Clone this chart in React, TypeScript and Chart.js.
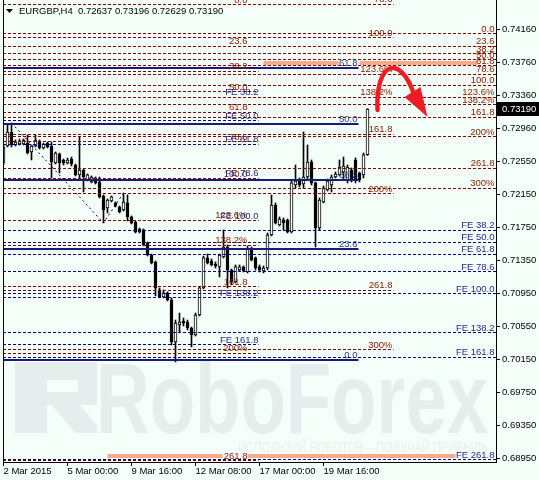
import React, { useEffect, useRef } from 'react';
import { Chart, registerables } from 'chart.js';

Chart.register(...registerables);

// ---------------- data ----------------
const symbol = 'EURGBP';
const timeframe = 'H4';

const opens = [0.72536,0.72743,0.72913,0.72755,0.72767,0.72767,0.72779,0.72670,0.72743,0.72803,
0.72719,0.72779,0.72743,0.72536,0.72646,0.72573,0.72536,0.72585,0.72512,0.72391,
0.72451,0.72330,0.72306,0.72354,0.72306,0.72136,0.71990,0.72075,0.72051,0.72002,
0.71966,0.72051,0.71881,0.71820,0.71735,0.71723,0.71565,0.71419,0.71334,0.70995,
0.70910,0.70958,0.70873,0.70363,0.70569,0.70617,0.70605,0.70532,0.70447,0.70690,
0.71019,0.71383,0.71346,0.71310,0.71274,0.71395,0.71516,0.71237,0.71092,0.71237,
0.71274,0.71213,0.71504,0.71383,0.71274,0.71225,0.71261,0.71662,0.72026,0.71783,
0.71844,0.71844,0.71698,0.72269,0.72330,0.72281,0.72366,0.72548,0.72294,0.71747,
0.72063,0.72209,0.72269,0.72366,0.72391,0.72427,0.72330,0.72451,0.72573,0.72415,
0.72391,0.72637];

const highs = [0.72767,0.72998,0.73022,0.72816,0.72828,0.72828,0.72876,0.72755,0.72876,0.72816,
0.72779,0.72791,0.72791,0.72670,0.72658,0.72585,0.72597,0.72609,0.72524,0.72852,
0.72463,0.72403,0.72379,0.72366,0.72366,0.72148,0.72099,0.72136,0.72063,0.72014,
0.72172,0.72148,0.71893,0.71832,0.71747,0.71735,0.71577,0.71431,0.71346,0.71019,
0.70995,0.70970,0.70898,0.70629,0.70714,0.70654,0.70629,0.70544,0.70714,0.71031,
0.71407,0.71431,0.71371,0.71334,0.71431,0.71723,0.71541,0.71249,0.71298,0.71298,
0.71286,0.71529,0.71516,0.71395,0.71298,0.71286,0.71686,0.72148,0.72051,0.71881,
0.71868,0.71856,0.72318,0.72512,0.72354,0.72913,0.72755,0.72573,0.72306,0.72112,
0.72257,0.72342,0.72391,0.72427,0.72573,0.72609,0.72512,0.72476,0.72597,0.72427,
0.72658,0.73196];

const lows = [0.72512,0.72731,0.72731,0.72743,0.72755,0.72755,0.72646,0.72573,0.72731,0.72706,
0.72706,0.72719,0.72354,0.72524,0.72415,0.72512,0.72524,0.72500,0.72379,0.72330,
0.72184,0.72318,0.72294,0.72281,0.72112,0.71808,0.71929,0.72063,0.72002,0.71929,
0.71953,0.71832,0.71796,0.71686,0.71686,0.71529,0.71407,0.71310,0.70922,0.70898,
0.70898,0.70861,0.70326,0.70120,0.70484,0.70557,0.70508,0.70302,0.70435,0.70678,
0.71007,0.71310,0.71286,0.71261,0.71152,0.71383,0.71019,0.71055,0.71080,0.71225,
0.71213,0.71201,0.71346,0.71237,0.71213,0.71201,0.71237,0.71650,0.71796,0.71771,
0.71723,0.71686,0.71686,0.72233,0.72245,0.72233,0.72342,0.72269,0.71516,0.71723,
0.72051,0.72197,0.72184,0.72354,0.72379,0.72330,0.72294,0.72306,0.72294,0.72306,
0.72354,0.72629];

const closes = [0.72731,0.72913,0.72755,0.72791,0.72803,0.72816,0.72658,0.72743,0.72816,0.72719,
0.72767,0.72731,0.72548,0.72658,0.72536,0.72536,0.72573,0.72524,0.72391,0.72451,
0.72366,0.72391,0.72366,0.72294,0.72124,0.71966,0.72087,0.72124,0.72014,0.71941,
0.72063,0.71881,0.71808,0.71698,0.71698,0.71541,0.71419,0.71322,0.71019,0.70910,
0.70958,0.70873,0.70363,0.70593,0.70605,0.70593,0.70532,0.70447,0.70690,0.71019,
0.71383,0.71322,0.71298,0.71286,0.71419,0.71516,0.71237,0.71092,0.71274,0.71274,
0.71225,0.71504,0.71359,0.71261,0.71237,0.71261,0.71662,0.72026,0.71808,0.71856,
0.71808,0.71698,0.72294,0.72318,0.72269,0.72366,0.72548,0.72294,0.71747,0.72087,
0.72233,0.72318,0.72366,0.72403,0.72488,0.72500,0.72488,0.72330,0.72330,0.72330,
0.72634,0.73190];

const dateTickBars = [0, 16, 32, 48, 64, 80];
const dateTickLabels = ['2 Mar 2015', '5 Mar 00:00', '9 Mar 16:00', '12 Mar 08:00', '17 Mar 00:00', '19 Mar 16:00'];
const priceTicks = [0.7416, 0.7376, 0.7336, 0.7296, 0.7255, 0.7215, 0.7175, 0.7135, 0.7095, 0.7055, 0.7015, 0.6975, 0.6935, 0.6895];

const retraceLevels = [0, 23.6, 38.2, 50, 61.8, 78.6, 100, 123.6, 138.2, 161.8, 200, 261.8, 300];
const retraceLabels = ['0.0', '23.6', '38.2', '50.0', '61.8', '78.6', '100.0', '123.6%', '138.2%', '161.8', '200%', '261.8', '300%'];
const expansionLevels = [38.2, 50, 61.8, 78.6, 100, 138.2, 161.8, 261.8];
const expansionLabels = ['FE 38.2', 'FE 50.0', 'FE 61.8', 'FE 78.6', 'FE 100.0', 'FE 138.2', 'FE 161.8', 'FE 261.8'];

// Fibonacci tools: price at 0% / 100%, last bar of the tool, bar where labels end
const fibP0 = [0.74104, 0.74456, 0.75954, 0.74268, 0.72199, 0.70138];
const fibP100 = [0.73480, 0.72342, 0.74059, 0.71832, 0.70951, 0.75886];
const fibEndBar = [123.125, 63.75, 97.5, 63.75, 123.125, 88.75];
const fibLabelBar = [122.75, 61, 97.25, 63.75, 122.75, 88.5];
const fibIsExpansion = [false, false, false, true, true, false];
const fibFirstLevel = [0, 0, 5, 0, 0, 0];
const fibLastLevel = [12, 11, 12, 6, 7, 4];

// wave used for the expansion (bar, price)
const waveBars = [2, 25, 30];
const wavePrices = [0.73022, 0.71808, 0.72172];

// target zones
const zoneFromBar = [65, 89, 26, 61];
const zoneToBar = [83.75, 118.5, 54.75, 113];
const zonePrice = [0.7375, 0.7375, 0.6898, 0.6898];

// forecast arrow (bezier through bars/prices) and head
const arrowBars = [93.5, 93, 99.25, 102.5];
const arrowPrices = [0.7318, 0.73787, 0.73848, 0.73386];
const arrowHeadBars = [100.25, 106, 104.25];
const arrowHeadPrices = [0.73338, 0.73095, 0.73459];

// ---------------- styles ----------------
const BG = '#F4FFF9';
const FONT = "'Liberation Sans', Arial, sans-serif";
const RED = '#800000';
const NAVY = '#000080';
const fibLineColor = [RED, RED, RED, NAVY, NAVY, '#1A1A78'];
const fibTextColor = ['#8B2000', '#8B2000', '#8B2000', '#2A2A86', '#2A2A86', '#27408B'];
const fibWidth = [1, 1, 1, 1, 1, 2];
const fibDashed = [true, true, true, true, true, false];

function fibPrice(f: number, level: number) {
  return fibP0[f] + (fibP100[f] - fibP0[f]) * level / 100;
}

function drawWatermark(ctx: CanvasRenderingContext2D) {
  ctx.save();
  ctx.fillStyle = '#E5EEED';
  ctx.fillRect(15, 362, 32, 71);
  ctx.fillRect(47, 362, 50, 18);
  ctx.fillRect(78, 380, 19, 25);
  ctx.fillRect(47, 392, 50, 13);
  ctx.beginPath();
  ctx.moveTo(52, 405);
  ctx.lineTo(80, 405);
  ctx.lineTo(97, 426);
  ctx.lineTo(97, 433);
  ctx.lineTo(75, 433);
  ctx.closePath();
  ctx.fill();
  ctx.font = `bold 100px ${FONT}`;
  ctx.textAlign = 'left';
  ctx.textBaseline = 'alphabetic';
  const w = ctx.measureText('RoboForex').width;
  ctx.save();
  ctx.translate(96, 433);
  ctx.scale(392 / w, 1);
  ctx.fillText('RoboForex', 0, 0);
  ctx.restore();
  const slogan = 'ИСПОЛЬЗУЙ РОБОТОВ – ПОЛУЧАЙ ПРИБЫЛЬ';
  ctx.fillStyle = '#E8F0EF';
  ctx.font = `15px ${FONT}`;
  const w2 = ctx.measureText(slogan).width;
  ctx.translate(238, 452);
  ctx.scale(250 / w2, 1);
  ctx.fillText(slogan, 0, 0);
  ctx.restore();
}

const overlayPlugin = {
  id: 'overlay',
  beforeDraw(chart: any) {
    const { ctx, width, height } = chart;
    ctx.save();
    ctx.fillStyle = BG;
    ctx.fillRect(0, 0, width, height);
    ctx.restore();
    drawWatermark(ctx);
  },
  // snap horizontal level lines to the pixel grid so they stay crisp
  beforeDatasetDraw(chart: any, args: any) {
    const ds = chart.data.datasets[args.index];
    chart.ctx.save();
    if (ds.snapY && args.meta.data.length) {
      const y0 = args.meta.data[0].y;
      const w = ds.borderWidth || 1;
      const target = w % 2 === 1 ? Math.floor(y0) + 0.5 : Math.round(y0);
      chart.ctx.translate(0, target - y0);
    }
  },
  afterDatasetDraw(chart: any) {
    chart.ctx.restore();
  },
  afterDatasetsDraw(chart: any) {
    const { ctx } = chart;
    const xs = chart.scales.x;
    const ys = chart.scales.y;
    ctx.save();
    ctx.font = `9.5px ${FONT}`;
    ctx.textAlign = 'right';
    ctx.textBaseline = 'alphabetic';
    for (let f = 0; f < fibP0.length; f++) {
      const labels = fibIsExpansion[f] ? expansionLabels : retraceLabels;
      const levels = fibIsExpansion[f] ? expansionLevels : retraceLevels;
      const lx = xs.getPixelForValue(fibLabelBar[f]);
      ctx.fillStyle = fibTextColor[f];
      for (let k = fibFirstLevel[f]; k <= fibLastLevel[f]; k++) {
        const y = ys.getPixelForValue(fibPrice(f, levels[k]));
        ctx.fillText(labels[k], lx, Math.round(y) - 2);
      }
    }
    // forecast arrow
    const px = (b: number) => xs.getPixelForValue(b);
    const py = (p: number) => ys.getPixelForValue(p);
    ctx.strokeStyle = '#EE1D25';
    ctx.fillStyle = '#EE1D25';
    ctx.lineWidth = 4.5;
    ctx.lineCap = 'round';
    ctx.beginPath();
    ctx.moveTo(px(arrowBars[0]), py(arrowPrices[0]));
    ctx.bezierCurveTo(px(arrowBars[1]), py(arrowPrices[1]), px(arrowBars[2]), py(arrowPrices[2]), px(arrowBars[3]), py(arrowPrices[3]));
    ctx.stroke();
    ctx.beginPath();
    ctx.moveTo(px(arrowHeadBars[0]), py(arrowHeadPrices[0]));
    ctx.lineTo(px(arrowHeadBars[1]), py(arrowHeadPrices[1]));
    ctx.lineTo(px(arrowHeadBars[2]), py(arrowHeadPrices[2]));
    ctx.closePath();
    ctx.fill();
    ctx.restore();
  },
  afterDraw(chart: any) {
    const { ctx, chartArea } = chart;
    const ys = chart.scales.y;
    ctx.save();
    // left frame line
    ctx.strokeStyle = '#000';
    ctx.lineWidth = 1;
    ctx.beginPath();
    ctx.moveTo(chartArea.left + 0.5, 0);
    ctx.lineTo(chartArea.left + 0.5, chartArea.bottom);
    ctx.stroke();
    // title
    const last = closes.length - 1;
    ctx.fillStyle = '#000';
    ctx.beginPath();
    ctx.moveTo(6, 9);
    ctx.lineTo(13, 9);
    ctx.lineTo(9.5, 13);
    ctx.closePath();
    ctx.fill();
    ctx.font = `9.5px ${FONT}`;
    ctx.textAlign = 'left';
    ctx.textBaseline = 'middle';
    ctx.fillText(`${symbol},${timeframe}  ${opens[last].toFixed(5)} ${highs[last].toFixed(5)} ${lows[last].toFixed(5)} ${closes[last].toFixed(5)}`, 19, 11);
    // current price label
    const y = Math.round(ys.getPixelForValue(closes[last]));
    ctx.fillStyle = '#000';
    ctx.fillRect(chartArea.right + 1, y - 7, 43, 14);
    ctx.fillStyle = '#fff';
    ctx.fillText(closes[last].toFixed(5), chartArea.right + 6, y);
    ctx.restore();
  }
};

export default function App() {
  const ref = useRef<HTMLCanvasElement>(null);

  useEffect(() => {
    document.body.style.margin = '0';
    const canvas = ref.current;
    if (!canvas) return;

    const datasets: any[] = [];

    // Fibonacci levels
    for (let f = 0; f < fibP0.length; f++) {
      const levels = fibIsExpansion[f] ? expansionLevels : retraceLevels;
      for (let k = fibFirstLevel[f]; k <= fibLastLevel[f]; k++) {
        const p = fibPrice(f, levels[k]);
        datasets.push({
          type: 'line',
          data: [{ x: -0.125, y: p }, { x: fibEndBar[f], y: p }],
          borderColor: fibLineColor[f],
          borderWidth: fibWidth[f],
          borderDash: fibDashed[f] ? [3, 2] : [],
          pointRadius: 0,
          fill: false,
          snapY: true,
          order: fibDashed[f] ? 3 : 2,
        });
      }
    }
    // wave
    datasets.push({
      type: 'line',
      data: waveBars.map((b, i) => ({ x: b, y: wavePrices[i] })),
      borderColor: NAVY,
      borderWidth: 1,
      borderDash: [2, 3],
      pointRadius: 0,
      fill: false,
      order: 3,
    });
    // zones
    for (let z = 0; z < zonePrice.length; z++) {
      datasets.push({
        type: 'line',
        data: [{ x: zoneFromBar[z], y: zonePrice[z] }, { x: zoneToBar[z], y: zonePrice[z] }],
        borderColor: '#FAA98B',
        borderWidth: 4,
        pointRadius: 0,
        fill: false,
        snapY: true,
        order: 1,
      });
    }
    // candles
    datasets.push({
      type: 'bar',
      data: opens.map((o, i) => ({ x: i, y: [o, closes[i]] })),
      backgroundColor: opens.map((o, i) => (closes[i] >= o ? '#ffffff' : '#000000')),
      borderColor: '#000000',
      borderWidth: 1,
      borderSkipped: false,
      barThickness: 3,
      grouped: false,
      minBarLength: 1,
      order: 10,
    });
    datasets.push({
      type: 'bar',
      data: lows.map((l, i) => ({ x: i, y: [l, highs[i]] })),
      backgroundColor: '#000000',
      borderWidth: 0,
      barThickness: 1,
      grouped: false,
      order: 11,
    });

    const tickFont = { family: FONT, size: 9.5 };

    const chart = new Chart(canvas, {
      type: 'bar',
      data: { datasets },
      plugins: [overlayPlugin],
      options: {
        animation: false,
        responsive: false,
        devicePixelRatio: 1,
        events: [],
        layout: { padding: { left: 3, top: 0, right: 0, bottom: 0 } },
        plugins: { legend: { display: false }, tooltip: { enabled: false }, title: { display: false } },
        scales: {
          x: {
            type: 'linear',
            min: -0.125,
            max: 123.125,
            offset: false,
            grid: { drawOnChartArea: false, drawTicks: true, tickLength: 4, color: '#000', offset: false },
            border: { display: true, color: '#000', width: 1 },
            ticks: {
              autoSkip: false,
              maxRotation: 0,
              minRotation: 0,
              align: 'start',
              padding: 0,
              color: '#000',
              font: tickFont,
              callback: (v: any) => {
                const k = dateTickBars.indexOf(Number(v));
                return k >= 0 ? dateTickLabels[k] : '';
              },
            },
            afterBuildTicks: (s: any) => {
              s.ticks = dateTickBars.map((v) => ({ value: v }));
            },
            afterFit: (s: any) => {
              s.height = 18;
              s.paddingLeft = 0;
              s.paddingRight = 0;
            },
          },
          y: {
            type: 'linear',
            position: 'right',
            min: 0.689048,
            max: 0.745158,
            beginAtZero: false,
            grid: { drawOnChartArea: false, drawTicks: true, tickLength: 4, color: '#000' },
            border: { display: true, color: '#000', width: 1 },
            ticks: {
              padding: 2,
              color: '#000',
              font: tickFont,
              callback: (v: any) => Number(v).toFixed(5),
            },
            afterBuildTicks: (s: any) => {
              s.ticks = priceTicks.map((v) => ({ value: v }));
            },
            afterFit: (s: any) => {
              s.width = 43;
              s.paddingTop = 0;
              s.paddingBottom = 0;
            },
          },
        },
      } as any,
    });

    return () => chart.destroy();
  }, []);

  return (
    <div style={{ position: 'absolute', left: 0, top: 0, width: 539, height: 480 }}>
      <canvas ref={ref} width={539} height={480} style={{ display: 'block', width: 539, height: 480 }} />
    </div>
  );
}
